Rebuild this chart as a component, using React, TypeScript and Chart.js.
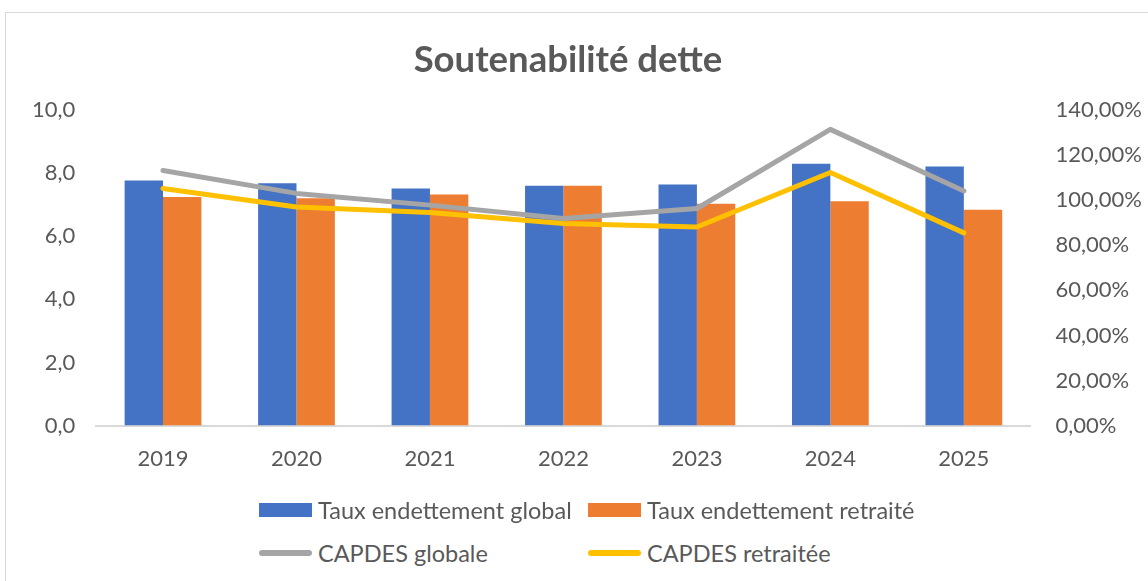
import React, { useEffect, useRef } from "react";
import { Chart, registerables } from "chart.js";

Chart.register(...registerables);

const years = ["2019", "2020", "2021", "2022", "2023", "2024", "2025"];
const tauxGlobal = [7.77, 7.68, 7.51, 7.6, 7.64, 8.3, 8.21];
const tauxRetraite = [7.24, 7.2, 7.32, 7.6, 7.03, 7.11, 6.84];
const capdesGlobale = [113.2, 103.0, 97.8, 91.9, 96.3, 131.4, 104.1];
const capdesRetraitee = [105.2, 97.0, 94.5, 89.6, 88.1, 112.3, 85.5];

const TITLE = "Soutenabilité dette";
const FONT = "Lato, 'Open Sans', sans-serif";
const TEXT = "#595959";
const BLUE = "#4472C4";
const ORANGE = "#ED7D31";
const GRAY = "#A5A5A5";
const GOLD = "#FFC000";

const legendItems = [
  { label: "Taux endettement global", color: BLUE, kind: "box", left: 259, top: 510 },
  { label: "Taux endettement retraité", color: ORANGE, kind: "box", left: 588, top: 510 },
  { label: "CAPDES globale", color: GRAY, kind: "line", left: 259, top: 553 },
  { label: "CAPDES retraitée", color: GOLD, kind: "line", left: 588, top: 553 },
];

export default function App() {
  const ref = useRef<HTMLCanvasElement>(null);
  useEffect(() => {
    if (!ref.current) return;
    const chart = new Chart(ref.current, {
      type: "bar",
      data: {
        labels: years,
        datasets: [
          {
            type: "line",
            label: "CAPDES retraitée",
            data: capdesRetraitee,
            borderColor: GOLD,
            backgroundColor: GOLD,
            borderWidth: 5,
            pointRadius: 0,
            yAxisID: "y1",
            order: 0,
            borderJoinStyle: "round",
            borderCapStyle: "round",
          } as any,
          {
            type: "line",
            label: "CAPDES globale",
            data: capdesGlobale,
            borderColor: GRAY,
            backgroundColor: GRAY,
            borderWidth: 5,
            pointRadius: 0,
            yAxisID: "y1",
            order: 1,
            borderJoinStyle: "round",
            borderCapStyle: "round",
          } as any,
          {
            label: "Taux endettement global",
            data: tauxGlobal,
            backgroundColor: BLUE,
            yAxisID: "y",
            order: 2,
            barPercentage: 1,
            categoryPercentage: 0.575,
          },
          {
            label: "Taux endettement retraité",
            data: tauxRetraite,
            backgroundColor: ORANGE,
            yAxisID: "y",
            order: 2,
            barPercentage: 1,
            categoryPercentage: 0.575,
          },
        ],
      },
      options: {
        animation: false,
        responsive: false,
        maintainAspectRatio: false,
        layout: { padding: { left: 11, right: 0, top: 110, bottom: 13 } },
        plugins: {
          legend: { display: false },
          tooltip: { enabled: false },
          title: { display: false },
        },
        scales: {
          x: {
            grid: { display: false, drawTicks: false },
            border: { display: true, color: "#D9D9D9", width: 2 },
            ticks: { color: TEXT, font: { family: FONT, size: 22 }, padding: 20 },
          },
          y: {
            position: "left",
            min: 0,
            max: 10,
            grid: { display: false, drawTicks: false },
            border: { display: false },
            ticks: {
              stepSize: 2,
              color: TEXT,
              font: { family: FONT, size: 22 },
              padding: 21,
              callback: (v: any) => Number(v).toFixed(1).replace(".", ","),
            },
          },
          y1: {
            position: "right",
            min: 0,
            max: 140,
            grid: { display: false, drawTicks: false },
            border: { display: false },
            ticks: {
              stepSize: 20,
              color: TEXT,
              font: { family: FONT, size: 22 },
              padding: 25,
              callback: (v: any) => Number(v).toFixed(2).replace(".", ",") + "%",
            },
          },
        },
      },
    });
    return () => chart.destroy();
  }, []);

  return (
    <div
      style={{
        position: "fixed",
        left: 0,
        top: 0,
        width: 1148,
        height: 581,
        background: "#fff",
        overflow: "hidden",
      }}
    >
      <div
        style={{
          position: "absolute",
          left: 5,
          top: 12,
          width: 1200,
          height: 700,
          border: "1px solid #D9D9D9",
        }}
      />
      <canvas ref={ref} width={1167} height={505} style={{ position: "absolute", left: 0, top: 0 }} />
      <div
        style={{
          position: "absolute",
          left: 0,
          width: 1136,
          top: 36,
          height: 44,
          lineHeight: "44px",
          textAlign: "center",
          fontFamily: FONT,
          fontWeight: "bold",
          fontSize: 36.5,
          color: TEXT,
          whiteSpace: "nowrap",
        }}
      >
        {TITLE}
      </div>
      {legendItems.map((it) => (
        <div
          key={it.label}
          style={{
            position: "absolute",
            left: it.left,
            top: it.top - 15,
            height: 30,
            display: "flex",
            alignItems: "center",
            fontFamily: FONT,
            fontSize: 23.5,
            color: TEXT,
            whiteSpace: "nowrap",
          }}
        >
          <span
            style={{
              display: "inline-block",
              width: 53,
              height: it.kind === "box" ? 14 : 6,
              borderRadius: it.kind === "box" ? 0 : 3,
              background: it.color,
              marginRight: 6,
            }}
          />
          <span>{it.label}</span>
        </div>
      ))}
    </div>
  );
}
